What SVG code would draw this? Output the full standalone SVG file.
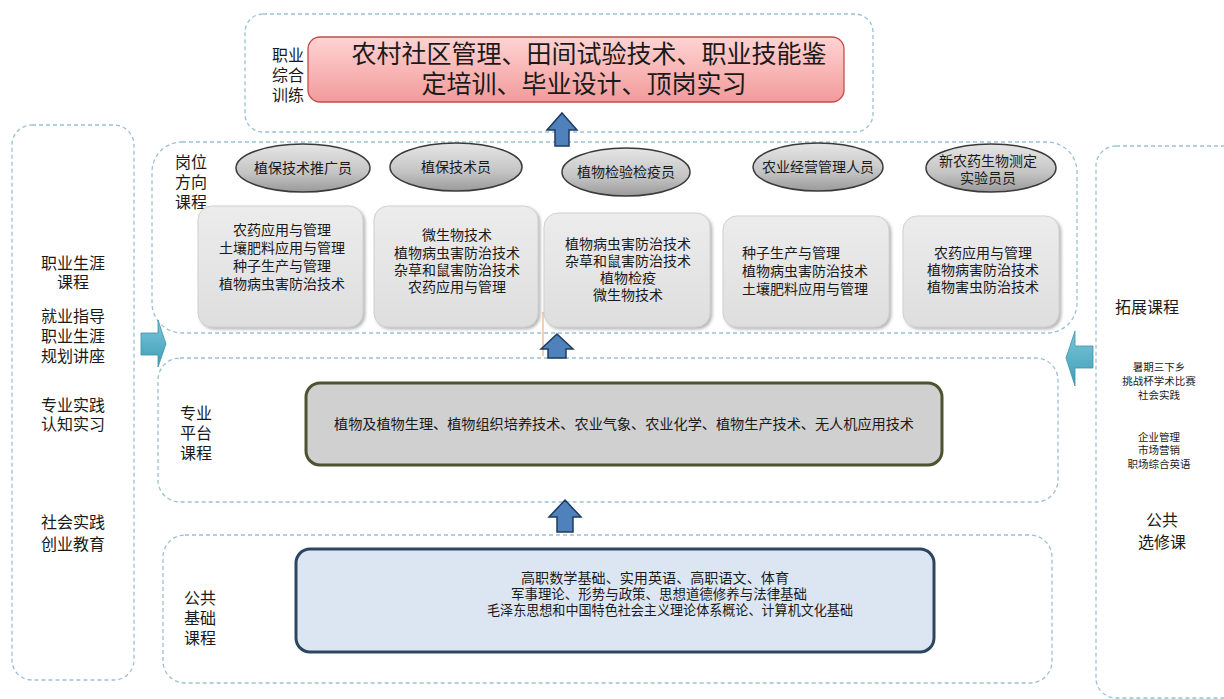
<svg xmlns="http://www.w3.org/2000/svg" width="1224" height="699" viewBox="0 0 1224 699">
<defs>
<style>
.dash{fill:#ffffff;stroke:#9cc0d2;stroke-width:1.3;stroke-dasharray:4 3}
.t{font-family:"Noto Sans CJK SC","Noto Sans",sans-serif;fill:#1a1a1a;text-anchor:middle}
.lbl{font-size:16px}
.crs{font-size:14px}
.ell{fill:url(#gEll);stroke:#3a3a3a;stroke-width:1.5}
.box{fill:url(#gBox);stroke:#d0d0d0;stroke-width:1;filter:url(#sh)}
.up{fill:#4f81bd;stroke:#1f3b5c;stroke-width:1.5}
.side{fill:url(#gTeal);stroke:#3f93a8;stroke-width:0.8}
</style>
<linearGradient id="gEll" x1="0" y1="0" x2="0" y2="1">
<stop offset="0" stop-color="#e6e6e6"/><stop offset="0.6" stop-color="#c4c4c4"/><stop offset="1" stop-color="#9a9a9a"/>
</linearGradient>
<linearGradient id="gBox" x1="0" y1="0" x2="0" y2="1">
<stop offset="0" stop-color="#ececec"/><stop offset="1" stop-color="#dedede"/>
</linearGradient>
<linearGradient id="gPink" x1="0" y1="0" x2="0" y2="1">
<stop offset="0" stop-color="#ffd3d3"/><stop offset="1" stop-color="#f29a9a"/>
</linearGradient>
<linearGradient id="gTeal" x1="0" y1="0" x2="0" y2="1">
<stop offset="0" stop-color="#7cc7da"/><stop offset="1" stop-color="#3c9db6"/>
</linearGradient>
<filter id="sh" x="-10%" y="-10%" width="125%" height="125%">
<feDropShadow dx="2" dy="2" stdDeviation="1.5" flood-color="#888" flood-opacity="0.6"/>
</filter>
</defs>

<!-- frames -->
<g id="frame-left"><rect class="dash" x="12" y="125" width="122" height="555" rx="20"/>
<text class="t lbl" x="73" y="269">职业生涯</text><text class="t lbl" x="73" y="288">课程</text>
<text class="t lbl" x="73" y="322">就业指导</text><text class="t lbl" x="73" y="342">职业生涯</text><text class="t lbl" x="73" y="362">规划讲座</text>
<text class="t lbl" x="73" y="411">专业实践</text><text class="t lbl" x="73" y="430">认知实习</text>
<text class="t lbl" x="73" y="528">社会实践</text><text class="t lbl" x="73" y="550">创业教育</text>
</g>
<g id="frame-right"><rect class="dash" x="1096" y="146" width="150" height="552" rx="20"/>
<text class="t lbl" x="1147" y="313">拓展课程</text>
<text class="t" style="font-size:10.5px" x="1159" y="371">暑期三下乡</text>
<text class="t" style="font-size:10.5px" x="1159" y="385">挑战杯学术比赛</text>
<text class="t" style="font-size:10.5px" x="1159" y="399">社会实践</text>
<text class="t" style="font-size:10.5px" x="1159" y="441">企业管理</text>
<text class="t" style="font-size:10.5px" x="1159" y="454">市场营销</text>
<text class="t" style="font-size:10.5px" x="1159" y="468">职场综合英语</text>
<text class="t lbl" x="1162" y="526">公共</text><text class="t lbl" x="1162" y="548">选修课</text>
</g>

<g id="top">
<rect class="dash" x="245" y="14" width="628" height="118" rx="18"/>
<text class="t lbl" x="288" y="61">职业</text><text class="t lbl" x="288" y="81">综合</text><text class="t lbl" x="288" y="101">训练</text>
<rect x="308" y="37" width="536" height="65" rx="12" fill="url(#gPink)" stroke="#c0504d" stroke-width="1.3"/>
<text class="t" style="font-size:25px" x="589" y="63">农村社区管理、田间试验技术、职业技能鉴</text>
<text class="t" style="font-size:25px" x="584" y="93">定培训、毕业设计、顶岗实习</text>
</g>

<g id="post">
<rect class="dash" x="152" y="142" width="925" height="191" rx="30"/>
<text class="t lbl" x="191" y="168">岗位</text><text class="t lbl" x="191" y="188">方向</text><text class="t lbl" x="191" y="208">课程</text>
</g>
<g id="job1"><ellipse class="ell" cx="303" cy="168" rx="67" ry="24"/><text class="t crs" x="303" y="173">植保技术推广员</text>
<rect class="box" x="198" y="206" width="165" height="121" rx="14"/>
<text class="t crs" x="282" y="235">农药应用与管理</text><text class="t crs" x="282" y="253">土壤肥料应用与管理</text><text class="t crs" x="282" y="271">种子生产与管理</text><text class="t crs" x="282" y="289">植物病虫害防治技术</text></g>
<g id="job2"><ellipse class="ell" cx="456" cy="167" rx="66" ry="24"/><text class="t crs" x="456" y="172">植保技术员</text>
<rect class="box" x="374" y="206" width="164" height="121" rx="14"/>
<text class="t crs" x="457" y="240">微生物技术</text><text class="t crs" x="457" y="258">植物病虫害防治技术</text><text class="t crs" x="457" y="275">杂草和鼠害防治技术</text><text class="t crs" x="457" y="292">农药应用与管理</text></g>
<g id="job3"><ellipse class="ell" cx="626" cy="172" rx="64" ry="24"/><text class="t crs" x="626" y="177">植物检验检疫员</text>
<rect class="box" x="544" y="213" width="166" height="114" rx="14"/>
<text class="t crs" x="628" y="249">植物病虫害防治技术</text><text class="t crs" x="628" y="266">杂草和鼠害防治技术</text><text class="t crs" x="628" y="283">植物检疫</text><text class="t crs" x="628" y="300">微生物技术</text></g>
<g id="job4"><ellipse class="ell" cx="818" cy="167" rx="65" ry="24"/><text class="t crs" x="818" y="172">农业经营管理人员</text>
<rect class="box" x="723" y="216" width="166" height="111" rx="14"/>
<text class="t crs" style="text-anchor:start" x="742" y="258">种子生产与管理</text><text class="t crs" style="text-anchor:start" x="742" y="276">植物病虫害防治技术</text><text class="t crs" style="text-anchor:start" x="742" y="294">土壤肥料应用与管理</text></g>
<g id="job5"><ellipse class="ell" cx="991" cy="168" rx="65" ry="24"/><text class="t crs" x="988" y="166">新农药生物测定</text><text class="t crs" x="988" y="183">实验员员</text>
<rect class="box" x="903" y="216" width="156" height="111" rx="14"/>
<text class="t crs" x="983" y="258">农药应用与管理</text><text class="t crs" x="983" y="275">植物病害防治技术</text><text class="t crs" x="983" y="292">植物害虫防治技术</text></g>

<g id="platform">
<rect class="dash" x="158" y="358" width="900" height="144" rx="22"/>
<text class="t lbl" x="196" y="419">专业</text><text class="t lbl" x="196" y="439">平台</text><text class="t lbl" x="196" y="459">课程</text>
<rect x="306" y="383" width="636" height="82" rx="14" fill="#d0d0d0" stroke="#4e5230" stroke-width="3"/>
<text class="t" style="font-size:14px" x="624" y="429" textLength="580" lengthAdjust="spacingAndGlyphs">植物及植物生理、植物组织培养技术、农业气象、农业化学、植物生产技术、无人机应用技术</text>
</g>

<g id="public">
<rect class="dash" x="163" y="535" width="889" height="148" rx="22"/>
<text class="t lbl" x="200" y="604">公共</text><text class="t lbl" x="200" y="624">基础</text><text class="t lbl" x="200" y="644">课程</text>
<rect x="296" y="549" width="638" height="103" rx="14" fill="#dce6f2" stroke="#2c4660" stroke-width="3"/>
<text class="t" style="font-size:13.5px" x="655" y="583" textLength="268" lengthAdjust="spacingAndGlyphs">高职数学基础、实用英语、高职语文、体育</text>
<text class="t" style="font-size:13.5px" x="659" y="599" textLength="296" lengthAdjust="spacingAndGlyphs">军事理论、形势与政策、思想道德修养与法律基础</text>
<text class="t" style="font-size:13.5px" x="670" y="615" textLength="366" lengthAdjust="spacingAndGlyphs">毛泽东思想和中国特色社会主义理论体系概论、计算机文化基础</text>
</g>

<g id="connectors">
<line x1="543" y1="312" x2="543" y2="356" stroke="#f0a060" stroke-width="1"/>
<polygon class="up" points="562,113 577,130 569,130 569,146 555,146 555,130 547,130"/>
<polygon class="up" points="557,334 573,349 566,349 566,358 548,358 548,349 541,349"/>
<polygon class="up" points="565,500 581,517 573,517 573,532 557,532 557,517 549,517"/>
<polygon class="side" points="141,333 158,333 158,320 166,344 158,367 158,355 141,355"/>
<polygon class="side" points="1093,346 1075,346 1075,331 1066,358 1075,386 1075,368 1093,368"/>
</g>
</svg>
